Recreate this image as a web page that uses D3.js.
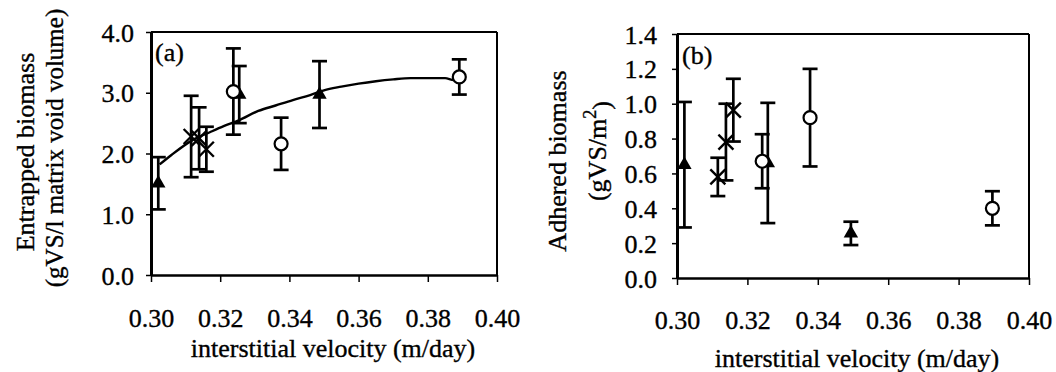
<!DOCTYPE html>
<html>
<head>
<meta charset="utf-8">
<script src="https://cdn.jsdelivr.net/npm/d3@7"></script>
<style>
  html, body { margin: 0; padding: 0; background: #fff; }
  svg text { font-family: "Liberation Serif", "Times New Roman", serif; fill: #000; stroke: #000; stroke-width: 0.35px; }
</style>
</head>
<body>
<svg id="chart" width="1056" height="372"></svg>
<script>
// ---------- DATA ----------
const xTicks = [0.30, 0.32, 0.34, 0.36, 0.38, 0.40];
const yTicksA = [0.0, 1.0, 2.0, 3.0, 4.0];
const yTicksB = [0.0, 0.2, 0.4, 0.6, 0.8, 1.0, 1.2, 1.4];

// Panel (a): entrapped biomass
const triAX = [0.3021, 0.3255, 0.3487];
const triAY = [1.51, 2.97, 2.97];
const triAErr = [0.43, 0.47, 0.55];
const crossAX = [0.3116, 0.3139, 0.3160];
const crossAY = [2.28, 2.25, 2.07];
const crossAErr = [0.67, 0.51, 0.37];
const circAX = [0.3238, 0.3376, 0.3891];
const circAY = [3.02, 2.16, 3.26];
const circAErr = [0.71, 0.43, 0.29];
const fitX = [0.3025, 0.306, 0.312, 0.317, 0.321, 0.3255, 0.331, 0.336, 0.341, 0.346, 0.350, 0.355, 0.360, 0.365, 0.370, 0.375, 0.380, 0.385, 0.3875, 0.389];
const fitY = [1.82, 1.98, 2.22, 2.35, 2.45, 2.55, 2.70, 2.79, 2.88, 2.96, 3.04, 3.10, 3.15, 3.19, 3.22, 3.24, 3.24, 3.24, 3.21, 3.22];

// Panel (b): adhered biomass
const triBX = [0.3021, 0.3258, 0.3494];
const triBY = [0.65, 0.66, 0.256];
const triBErr = [0.36, 0.345, 0.067];
const crossBX = [0.3116, 0.3139, 0.3160];
const crossBY = [0.58, 0.78, 0.963];
const crossBErr = [0.11, 0.22, 0.18];
const circBX = [0.3242, 0.3378, 0.3896];
const circBY = [0.67, 0.92, 0.40];
const circBErr = [0.155, 0.28, 0.098];

// ---------- DRAW ----------
const svg = d3.select("#chart");
const FS = 26;

function zip(xs, ys, es) { return xs.map((x, i) => ({x, y: ys[i], e: es[i]})); }

function drawPanel(p) {
  const x = d3.scaleLinear().domain([0.30, 0.40]).range([p.left, p.right]);
  const y = d3.scaleLinear().domain(p.yDomain).range([p.bottom, p.top]);
  const g = svg.append("g");

  // frame top & right
  g.append("line").attr("x1", p.left).attr("x2", p.right).attr("y1", p.top).attr("y2", p.top)
    .attr("stroke", "#000").attr("stroke-width", 2);
  g.append("line").attr("x1", p.right).attr("x2", p.right).attr("y1", p.top).attr("y2", p.bottom)
    .attr("stroke", "#000").attr("stroke-width", 2);

  // axes
  const ax = g.append("g").attr("transform", `translate(0,${p.bottom})`)
    .call(d3.axisBottom(x).tickValues(xTicks).tickFormat(d3.format(".2f")).tickSize(7).tickSizeOuter(0));
  ax.select(".domain").attr("stroke-width", 2.5);
  ax.selectAll(".tick line").attr("stroke-width", 1.5);
  ax.selectAll(".tick text").attr("font-size", FS).attr("font-family", "Liberation Serif")
    .attr("y", p.xLabelY - p.bottom).attr("dy", "0.35em");

  const ay = g.append("g").attr("transform", `translate(${p.left},0)`)
    .call(d3.axisLeft(y).tickValues(p.yTicks).tickFormat(d3.format(".1f")).tickSize(5).tickSizeOuter(0));
  ay.select(".domain").attr("stroke-width", 3);
  ay.selectAll(".tick line").attr("stroke-width", 1.5);
  ay.selectAll(".tick text").attr("font-size", FS).attr("font-family", "Liberation Serif")
    .attr("x", p.yLabelX - p.left).attr("dy", "0.35em");

  // panel tag
  g.append("text").attr("x", p.tagX).attr("y", p.tagY).attr("font-size", FS).text(p.tag);

  // fit curve
  if (p.fitX) {
    const line = d3.line().x(d => x(d[0])).y(d => y(d[1])).curve(d3.curveMonotoneX);
    g.append("path").datum(p.fitX.map((v, i) => [v, p.fitY[i]]))
      .attr("d", line).attr("fill", "none").attr("stroke", "#000").attr("stroke-width", 2.4);
  }

  // error bars
  const all = [...p.tri, ...p.cross, ...p.circ];
  const eb = g.append("g").attr("stroke", "#000").attr("stroke-width", 2.7);
  all.forEach(d => {
    const cx = x(d.x), y1 = y(d.y + d.e), y2 = y(d.y - d.e);
    eb.append("line").attr("x1", cx).attr("x2", cx).attr("y1", y1).attr("y2", y2);
    eb.append("line").attr("x1", cx - 7.5).attr("x2", cx + 7.5).attr("y1", y1).attr("y2", y1);
    eb.append("line").attr("x1", cx - 7.5).attr("x2", cx + 7.5).attr("y1", y2).attr("y2", y2);
  });

  // markers
  g.selectAll(".tri").data(p.tri).enter().append("path")
    .attr("d", d3.symbol(d3.symbolTriangle, 90))
    .attr("transform", d => `translate(${x(d.x)},${y(d.y)})`)
    .attr("fill", "#000");
  const cr = g.selectAll(".cross").data(p.cross).enter().append("g")
    .attr("transform", d => `translate(${x(d.x)},${y(d.y)})`)
    .attr("stroke", "#000").attr("stroke-width", 2.4);
  cr.append("line").attr("x1", -7.5).attr("y1", -7.5).attr("x2", 7.5).attr("y2", 7.5);
  cr.append("line").attr("x1", -7.5).attr("y1", 7.5).attr("x2", 7.5).attr("y2", -7.5);
  g.selectAll(".circ").data(p.circ).enter().append("circle")
    .attr("cx", d => x(d.x)).attr("cy", d => y(d.y)).attr("r", 6.5)
    .attr("fill", "#fff").attr("stroke", "#000").attr("stroke-width", 2.2);

  // axis titles
  g.append("text").attr("x", (p.left + p.right) / 2 + p.xTitleDx).attr("y", p.xTitleY)
    .attr("text-anchor", "middle").attr("font-size", FS).attr("dy", "0.35em")
    .text("interstitial velocity (m/day)");
  p.yTitles(g);
}

drawPanel({
  left: 151, right: 497, top: 32, bottom: 275,
  yDomain: [0, 4], yTicks: yTicksA,
  xLabelY: 318, yLabelX: 134, xTitleY: 348, xTitleDx: 9,
  tag: "(a)", tagX: 155, tagY: 61,
  tri: zip(triAX, triAY, triAErr), cross: zip(crossAX, crossAY, crossAErr), circ: zip(circAX, circAY, circAErr),
  fitX: fitX, fitY: fitY,
  yTitles: g => {
    g.append("text").attr("transform", "translate(25,152) rotate(-90)")
      .attr("text-anchor", "middle").attr("dy", "0.35em").attr("font-size", FS).text("Entrapped biomass");
    g.append("text").attr("transform", "translate(54,148) rotate(-90)")
      .attr("text-anchor", "middle").attr("dy", "0.35em").attr("font-size", 25).text("(gVS/l matrix void volume)");
  }
});

drawPanel({
  left: 677, right: 1029, top: 34, bottom: 278,
  yDomain: [0, 1.4], yTicks: yTicksB,
  xLabelY: 320, yLabelX: 657, xTitleY: 358, xTitleDx: 4,
  tag: "(b)", tagX: 682, tagY: 64,
  tri: zip(triBX, triBY, triBErr), cross: zip(crossBX, crossBY, crossBErr), circ: zip(circBX, circBY, circBErr),
  yTitles: g => {
    g.append("text").attr("transform", "translate(557,161) rotate(-90)")
      .attr("text-anchor", "middle").attr("dy", "0.35em").attr("font-size", FS).text("Adhered biomass");
    const t = g.append("text").attr("transform", "translate(597,151) rotate(-90)")
      .attr("text-anchor", "middle").attr("dy", "0.35em").attr("font-size", FS);
    t.append("tspan").text("(gVS/m");
    t.append("tspan").attr("dy", "-0.55em").attr("font-size", FS * 0.7).text("2");
    t.append("tspan").attr("dy", "0.55em").text(")");
  }
});
</script>
</body>
</html>
